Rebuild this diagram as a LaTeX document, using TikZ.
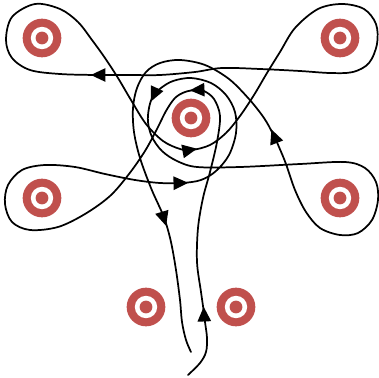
\documentclass[tikz,border=0pt]{standalone}
\usepackage{tikz}
\usetikzlibrary{arrows.meta}
\definecolor{holered}{RGB}{192,80,77}

\begin{document}
\begin{tikzpicture}[x=0.75pt, y=-0.75pt,
  hole/.style={circle, fill=holered, minimum size=29pt, inner sep=0pt,
    path picture={\fill[white] (path picture bounding box.center) circle (8.4pt);
      \fill[holered] (path picture bounding box.center) circle (4.8pt);}},
  strand/.style={line width=1.3pt, line cap=round, line join=round},
  tip/.style={line width=1.3pt, -{Triangle[length=11pt, width=10pt]}}]
\useasboundingbox (0,0) rectangle (379,378);
\foreach \nm/\px/\py in {tl/42/38, tr/340/38, c/191/118, ml/42/198, mr/340/198, bl/146/307, br/236/307}
  \node[hole] (\nm) at (\px,\py) {};
\draw[strand] plot[smooth, tension=0.55] coordinates {
  (188,375) (200,363) (206,352) (207,338) (205,322) (204,313) (201,292) (197,262)
  (198,228) (203,198) (210,172) (217,142) (220,116) (214,99) (204,91) (196,90)
  (185,92) (175,98) (166,111) (157,129) (145,151) (129,174) (110,196) (85,214)
  (58,227) (30,230) (12,222) (5,204) (8,185) (22,170) (45,165) (75,167) (105,174)
  (135,180) (160,183) (182,183) (201,180) (216,171) (229,155) (236,133) (235,112)
  (226,95) (211,83) (191,78) (173,81) (161,88) (153,96) (149,108) (148,122)
  (152,137) (162,151) (177,161) (197,167) (240,167) (300,164) (345,162) (365,168)
  (376,182) (378,200) (372,220) (358,233) (340,235) (320,228) (306,212) (295,190)
  (286,164) (279,147) (273,134) (264,118) (249,99) (229,79) (205,65) (180,60)
  (160,63) (146,72) (137,88) (133,108) (134,132) (140,158) (151,188) (160,208)
  (165,220) (171,242) (176,270) (180,300) (182,322) (186,340) (191,352)};
\draw[strand] plot[smooth cycle, tension=0.55] coordinates {
  (97,75) (60,74) (30,70) (12,58) (6,40) (12,17) (35,4) (60,9) (78,22) (92,40)
  (105,58) (118,78) (131,100) (146,124) (163,141) (180,149) (192,150) (210,145)
  (226,133) (240,116) (254,95) (267,73) (280,52) (295,28) (318,9) (342,4) (364,9)
  (376,24) (377,44) (369,63) (353,72) (330,73) (300,71) (260,69) (222,68)
  (195,72) (160,75) (130,75)};
\foreach \ax/\ay/\dx/\dy in {204/314/-0.3/-7.2, 197/90/-7.2/0.3, 181/183/7.2/-0.2,
  154/95/-3.0/6.5, 274/136/-2.6/-6.7, 164/219/2.1/6.9, 98/75/-7.2/0, 190/150/7.0/-1.3}
  \draw[tip] (\ax,\ay) -- ++(\dx,\dy);
\end{tikzpicture}
\end{document}
